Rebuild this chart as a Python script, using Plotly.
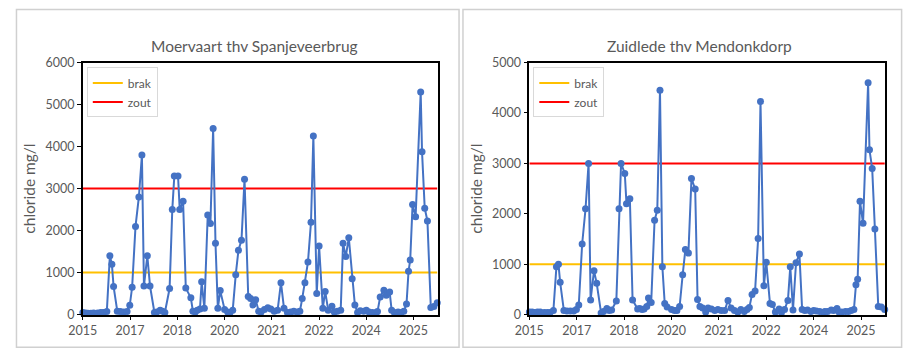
import plotly.graph_objects as go

# ---------------- data ----------------
sample_year = [
    2015.85, 2015.93, 2016.00, 2016.09, 2016.17, 2016.29, 2016.38, 2016.46, 2016.56, 2016.65,
    2016.71, 2016.76, 2016.87, 2016.96, 2017.06, 2017.16, 2017.24, 2017.31, 2017.41, 2017.51,
    2017.60, 2017.66, 2017.76, 2017.84, 2017.97, 2018.04, 2018.14, 2018.21, 2018.28, 2018.42,
    2018.50, 2018.56, 2018.67, 2018.72, 2018.82, 2018.90, 2019.05, 2019.11, 2019.18, 2019.24,
    2019.32, 2019.37, 2019.45, 2019.55, 2019.63, 2019.71, 2019.78, 2019.85, 2019.92, 2020.05,
    2020.14, 2020.21, 2020.29, 2020.38, 2020.46, 2020.55, 2020.64, 2020.75, 2020.82, 2020.89,
    2020.97, 2021.06, 2021.13, 2021.23, 2021.33, 2021.42, 2021.52, 2021.62, 2021.72, 2021.81,
    2021.91, 2022.01, 2022.10, 2022.20, 2022.28, 2022.35, 2022.43, 2022.52, 2022.61, 2022.68,
    2022.78, 2022.85, 2022.96, 2023.03, 2023.12, 2023.23, 2023.30, 2023.39, 2023.49, 2023.56,
    2023.64, 2023.73, 2023.83, 2023.91, 2023.99, 2024.07, 2024.17, 2024.25, 2024.33, 2024.43,
    2024.54, 2024.58, 2024.66, 2024.77, 2024.84, 2024.94, 2025.00, 2025.08, 2025.19, 2025.28,
    2025.36, 2025.44, 2025.50, 2025.55, 2025.62, 2025.71, 2025.86, 2025.90, 2025.98, 2026.06,
    2026.16, 2026.25, 2026.35,
]

moervaart_cl = [
    50, 40, 30, 30, 40, 40, 50, 50, 70, 1400,
    1200, 670, 80, 70, 60, 70, 220, 650, 2100, 2800,
    3800, 680, 1400, 680, 50, 60, 100, 80, 50, 620,
    2500, 3300, 3300, 2500, 2700, 630, 400, 80, 60, 100,
    130, 780, 150, 2370, 2170, 4430, 1700, 150, 570, 120,
    60, 50, 100, 950, 1530, 1770, 3220, 430, 380, 230,
    350, 80, 60, 120, 160, 130, 80, 100, 760, 150,
    50, 60, 80, 60, 80, 380, 760, 1250, 2200, 4250,
    500, 1630, 150, 550, 100, 200, 60, 80, 100, 1700,
    1380, 1830, 850, 230, 50, 90, 80, 100, 60, 50,
    50, 70, 420, 580, 460, 540, 100, 50, 60, 50,
    80, 250, 1030, 1300, 2620, 2330, 5300, 3880, 2530, 2230,
    170, 190, 280,
]

zuidlede_cl = [
    50, 50, 40, 50, 50, 40, 40, 40, 80, 950,
    1000, 640, 80, 70, 70, 70, 100, 190, 1400, 2100,
    3000, 290, 870, 620, 30, 60, 120, 80, 90, 270,
    2100, 3000, 2800, 2200, 2300, 290, 110, 120, 100, 110,
    160, 330, 240, 1870, 2070, 4450, 950, 220, 150, 100,
    80, 80, 160, 790, 1290, 1220, 2700, 2490, 300, 160,
    130, 50, 130, 110, 80, 100, 80, 80, 280, 130,
    80, 50, 100, 60, 100, 140, 400, 470, 1510, 4230,
    570, 1040, 220, 200, 50, 110, 40, 100, 280, 950,
    90, 1030, 1200, 100, 80, 90, 60, 80, 70, 60,
    40, 60, 60, 90, 80, 120, 50, 50, 60, 60,
    80, 100, 590, 700, 2250, 1810, 4600, 3270, 2900, 1700,
    160, 150, 100,
]

brak_limit = 1000
zout_limit = 3000

tick_year = [2015.85, 2017.25, 2018.65, 2020.05, 2021.45, 2022.85, 2024.25, 2025.65]
tick_label = ["2015", "2017", "2018", "2020", "2021", "2022", "2024", "2025"]

titles = ["Moervaart thv Spanjeveerbrug", "Zuidlede thv Mendonkdorp"]
y_max = [6000, 5000]
y_title = "chloride mg/l"

# ---------------- figure ----------------
W, H = 908, 357
FONT = "Lato, 'Open Sans', sans-serif"
TXT = "#595959"
BLUE = "#4472C4"

fig = go.Figure()

series = [moervaart_cl, zuidlede_cl]
x_dom = [[69 / W, 430 / W], [523 / W, 885 / W]]
y_dom = [37 / H, 300 / H]
x_lo, x_hi = min(sample_year), max(sample_year)

for i in range(2):
    xa = "x" if i == 0 else "x2"
    ya = "y" if i == 0 else "y2"
    lg = "legend" if i == 0 else "legend2"
    fig.add_trace(go.Scatter(
        x=[x_lo, x_hi], y=[brak_limit, brak_limit], mode="lines", name="brak",
        line=dict(color="#FFC000", width=2), xaxis=xa, yaxis=ya, legend=lg,
        hoverinfo="skip"))
    fig.add_trace(go.Scatter(
        x=[x_lo, x_hi], y=[zout_limit, zout_limit], mode="lines", name="zout",
        line=dict(color="#FF0000", width=2), xaxis=xa, yaxis=ya, legend=lg,
        hoverinfo="skip"))
    fig.add_trace(go.Scatter(
        x=sample_year, y=series[i], mode="lines+markers", name=titles[i],
        line=dict(color=BLUE, width=2), marker=dict(color=BLUE, size=7),
        xaxis=xa, yaxis=ya, showlegend=False, cliponaxis=False))

axis_common = dict(
    showgrid=False, zeroline=False, showline=True, linecolor="#000000",
    linewidth=1.5, mirror=True, ticks="outside", tickcolor="#000000",
    ticklen=4, tickwidth=1, tickfont=dict(family=FONT, size=12.5, color=TXT),
)

for i in range(2):
    sfx = "" if i == 0 else "2"
    fig.layout["xaxis" + sfx] = dict(
        axis_common, domain=x_dom[i], range=[x_lo, x_hi + 0.02],
        tickmode="array", tickvals=tick_year, ticktext=tick_label,
        anchor="y" + sfx)
    fig.layout["yaxis" + sfx] = dict(
        axis_common, domain=y_dom, range=[0, y_max[i]], dtick=1000,
        anchor="x" + sfx,
        title=dict(text=y_title, font=dict(family=FONT, size=15.5, color=TXT),
                   standoff=6))

legend_common = dict(
    xanchor="left", yanchor="top", bgcolor="rgba(255,255,255,1)",
    bordercolor="#D9D9D9", borderwidth=1, font=dict(family=FONT, size=12, color=TXT),
    itemwidth=30, tracegroupgap=0, itemclick=False,
)
fig.update_layout(
    legend=dict(legend_common, x=73 / W, y=1 - 62 / H),
    legend2=dict(legend_common, x=527 / W, y=1 - 62 / H),
)

for i in range(2):
    cx = (x_dom[i][0] + x_dom[i][1]) / 2 - (6 / W if i == 0 else 8 / W)
    fig.add_annotation(
        text=titles[i], x=cx, y=1 - 40 / H, xref="paper", yref="paper",
        showarrow=False, xanchor="center", yanchor="middle",
        font=dict(family=FONT, size=15.5, color=TXT))

# panel borders
fig.add_shape(type="rect", xref="paper", yref="paper",
              x0=1.5 / W, x1=451.5 / W, y0=1 - 354 / H, y1=1 - 1.5 / H,
              line=dict(color="#D0D0D0", width=1.5), layer="below")
fig.add_shape(type="rect", xref="paper", yref="paper",
              x0=455.5 / W, x1=901.5 / W, y0=1 - 354 / H, y1=1 - 1.5 / H,
              line=dict(color="#D0D0D0", width=1.5), layer="below")

fig.update_layout(
    width=W, height=H, autosize=False,
    margin=dict(l=0, r=0, t=0, b=0, pad=0),
    paper_bgcolor="white", plot_bgcolor="white",
    font=dict(family=FONT, color=TXT),
    hovermode=False,
)

fig.write_html(
    "out.html", config={"displayModeBar": False},
    post_script=(
        "var d=document.getElementById('{plot_id}');"
        "d.style.position='fixed';d.style.top='0px';d.style.left='0px';"
        "document.documentElement.style.margin='0';"
        "document.documentElement.style.overflow='hidden';"
        "document.body.style.margin='0';"
        "document.body.style.overflow='hidden';"
    ),
)
